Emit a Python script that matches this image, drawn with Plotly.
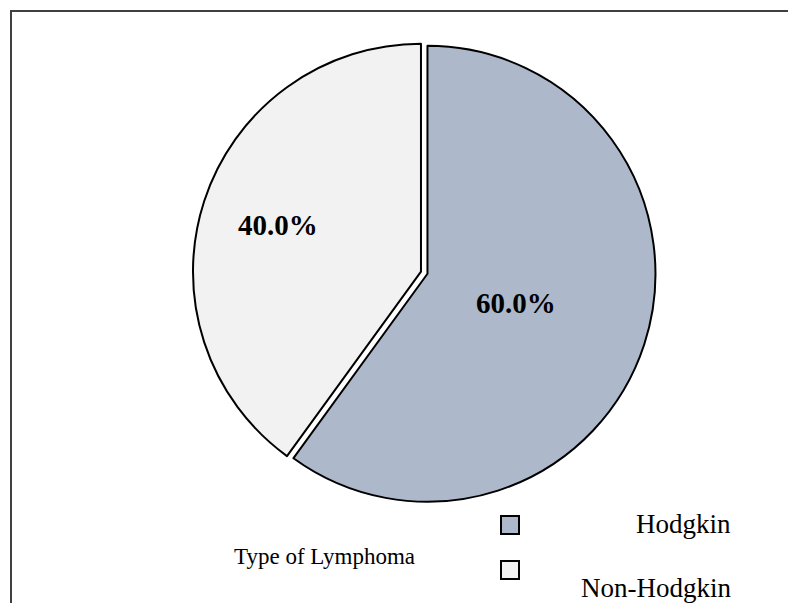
import math
import plotly.graph_objects as go

labels = ["Hodgkin", "Non-Hodgkin"]
values = [60.0, 40.0]
colors = ["#adb9ca", "#f2f2f2"]
title_text = "Type of Lymphoma"

W, H = 788, 603
dom_x = [0.2447, 0.8320]
dom_y = [0.164, 0.9315]
pulls = [0.015, 0.015]
label_r = [0.41, 0.66]  # radial placement of the percentage labels (fraction of radius)

fig = go.Figure()
fig.add_trace(go.Pie(
    labels=labels,
    values=values,
    sort=False,
    direction="clockwise",
    rotation=0,
    pull=pulls,
    marker=dict(colors=colors, line=dict(color="#000000", width=2)),
    textinfo="none",
    domain=dict(x=dom_x, y=dom_y),
    showlegend=False,
    hoverinfo="label+percent",
))

# percentage labels, placed from the data (slice mid-angles)
cx = (dom_x[0] + dom_x[1]) / 2 * W
cy = (1 - (dom_y[0] + dom_y[1]) / 2) * H
R = min((dom_x[1] - dom_x[0]) * W, (dom_y[1] - dom_y[0]) * H) / (2 * (1 + max(pulls)))
total = sum(values)
annotations = []
cum = 0.0
for v, p, rf in zip(values, pulls, label_r):
    mid = (cum + v / 2) / total * 2 * math.pi
    cum += v
    r = (rf + p) * R
    px = cx + r * math.sin(mid)
    py = cy - r * math.cos(mid)
    annotations.append(dict(text="<b>%.1f%%</b>" % (v / total * 100), xref="paper", yref="paper",
                            x=px / W, y=1 - py / H, xanchor="center", yanchor="middle",
                            showarrow=False,
                            font=dict(family="Liberation Serif", size=29, color="#000000")))

shapes = [dict(type="rect", xref="paper", yref="paper",
               x0=11 / W, x1=1.05, y0=-0.05, y1=1 - 11 / H,
               line=dict(color="#404040", width=2), fillcolor="rgba(0,0,0,0)", layer="below")]
annotations.append(dict(text=title_text, xref="paper", yref="paper", x=232 / W, y=1 - 556 / H,
                        xanchor="left", yanchor="middle", showarrow=False,
                        font=dict(family="Liberation Serif", size=23, color="#000000")))

# legend (boxes + labels) built from the data arrays
leg_box_y = [525, 570]
leg_text_y = [524, 588]
for lab, col, by, ty in zip(labels, colors, leg_box_y, leg_text_y):
    shapes.append(dict(type="rect", xref="paper", yref="paper",
                       x0=501 / W, x1=519 / W, y0=1 - (by + 9) / H, y1=1 - (by - 9) / H,
                       line=dict(color="#000000", width=2), fillcolor=col))
    annotations.append(dict(text=lab, xref="paper", yref="paper", x=733 / W, y=1 - ty / H,
                            xanchor="right", yanchor="middle", showarrow=False,
                            font=dict(family="Liberation Serif", size=27, color="#000000")))

fig.update_layout(
    width=W, height=H,
    margin=dict(l=0, r=0, t=0, b=0),
    paper_bgcolor="#ffffff",
    plot_bgcolor="#ffffff",
    shapes=shapes,
    annotations=annotations,
)

fig.write_html("out.html", config={"displayModeBar": False},
               post_script="document.body.style.margin='0';")
